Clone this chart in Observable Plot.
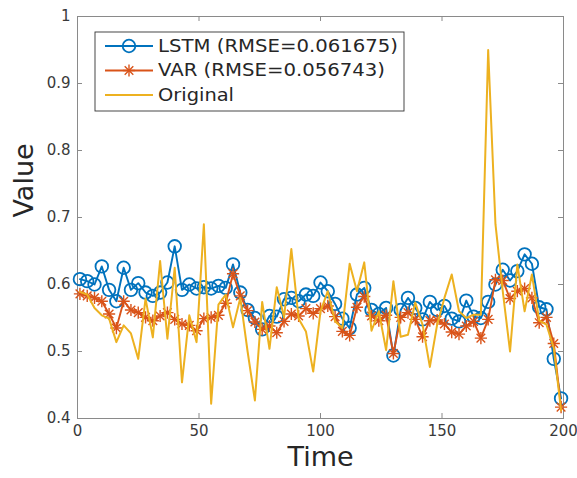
<!DOCTYPE html>
<html><head><meta charset="utf-8">
<script src="https://cdn.jsdelivr.net/npm/d3@7"></script>
<script src="https://cdn.jsdelivr.net/npm/@observablehq/plot@0.6"></script>
<style>
body{margin:0;background:#fff;}
#chart{width:577px;height:478px;}
</style></head><body><div id="chart"></div>
<script>
const time = [1,4,7,10,13,16,19,22,25,28,31,34,37,40,43,46,49,52,55,58,61,64,67,70,73,76,79,82,85,88,91,94,97,100,103,106,109,112,115,118,121,124,127,130,133,136,139,142,145,148,151,154,157,160,163,166,169,172,175,178,181,184,187,190,193,196,199];
const lstm = [0.608,0.605,0.600,0.627,0.592,0.575,0.625,0.592,0.602,0.588,
  0.583,0.588,0.603,0.657,0.592,0.600,0.594,0.596,0.594,0.598,
  0.595,0.630,0.588,0.562,0.550,0.533,0.553,0.552,0.578,0.580,
  0.575,0.585,0.583,0.603,0.590,0.571,0.549,0.535,0.585,0.595,
  0.562,0.556,0.565,0.494,0.562,0.580,0.565,0.548,0.574,0.562,
  0.568,0.549,0.545,0.576,0.552,0.550,0.574,0.600,0.622,0.606,
  0.620,0.645,0.631,0.566,0.563,0.489,0.430];
const varPred = [0.586,0.583,0.580,0.575,0.556,0.535,0.575,0.562,0.558,0.551,
  0.546,0.553,0.558,0.548,0.541,0.539,0.531,0.549,0.551,0.554,
  0.572,0.616,0.583,0.561,0.544,0.533,0.538,0.528,0.545,0.556,
  0.553,0.564,0.557,0.564,0.568,0.552,0.530,0.524,0.566,0.582,
  0.553,0.546,0.554,0.497,0.551,0.558,0.548,0.522,0.546,0.547,
  0.541,0.529,0.526,0.538,0.545,0.520,0.548,0.607,0.606,0.579,
  0.590,0.594,0.580,0.543,0.551,0.512,0.417];
const original = [0.589,0.585,0.565,0.554,0.549,0.514,0.539,0.527,0.489,0.579,
  0.521,0.635,0.519,0.625,0.454,0.554,0.514,0.690,0.422,0.570,
  0.585,0.536,0.580,0.500,0.427,0.574,0.504,0.596,0.551,0.653,
  0.549,0.530,0.470,0.560,0.590,0.545,0.535,0.631,0.590,0.633,
  0.531,0.560,0.502,0.605,0.522,0.525,0.573,0.540,0.477,0.540,
  0.580,0.615,0.560,0.550,0.555,0.555,0.950,0.690,0.590,0.500,
  0.630,0.560,0.615,0.546,0.540,0.505,0.412];
const xTicks = [0,50,100,150,200];
const yTicks = [0.4,0.5,0.6,0.7,0.8,0.9,1];
const yTickLabels = ["0.4","0.5","0.6","0.7","0.8","0.9","1"];
const seriesNames = ["LSTM (RMSE=0.061675)","VAR (RMSE=0.056743)","Original"];
const colors = ["#0072BD","#D95319","#EDB120"];
const xLabel = "Time", yLabel = "Value";

const W=577,H=478,mL=77,mR=14,mT=16,mB=60;
const pw=W-mL-mR, ph=H-mT-mB;
const lstmData = time.map((t,i)=>({t, v:lstm[i]}));
const varData = time.map((t,i)=>({t, v:varPred[i]}));
const origData = time.map((t,i)=>({t, v:original[i]}));
const axisColor = "#8a8a8a";

const chart = Plot.plot({
  width:W, height:H, marginLeft:mL, marginRight:mR, marginTop:mT, marginBottom:mB,
  style:{fontFamily:"DejaVu Sans", background:"white", color:"#3a3a3a"},
  x:{domain:[0,200], axis:null},
  y:{domain:[0.4,1], axis:null},
  marks:[
    Plot.frame({stroke:axisColor}),
    Plot.tickX(xTicks,{x:d=>d, insetTop:ph-5, stroke:axisColor}),
    Plot.tickX(xTicks,{x:d=>d, insetBottom:ph-5, stroke:axisColor}),
    Plot.tickY(yTicks,{y:d=>d, insetRight:pw-5, stroke:axisColor}),
    Plot.tickY(yTicks,{y:d=>d, insetLeft:pw-5, stroke:axisColor}),
    Plot.axisX(xTicks,{tickSize:0, tickPadding:7, fontSize:15, label:null, tickFormat:d=>String(d)}),
    Plot.axisY(yTicks,{tickSize:0, tickPadding:7, fontSize:15, label:null, tickFormat:d=>yTickLabels[yTicks.indexOf(d)]}),
    Plot.line(lstmData,{x:"t",y:"v",stroke:colors[0],strokeWidth:1.9}),
    Plot.dot(lstmData,{x:"t",y:"v",r:6.3,stroke:colors[0],strokeWidth:1.8,fill:"none"}),
    Plot.line(varData,{x:"t",y:"v",stroke:colors[1],strokeWidth:1.9}),
    Plot.dot(varData,{x:"t",y:"v",symbol:"plus",r:4,stroke:colors[1],strokeWidth:1.4}),
    Plot.dot(varData,{x:"t",y:"v",symbol:"times",r:4,stroke:colors[1],strokeWidth:1.4}),
    Plot.line(origData,{x:"t",y:"v",stroke:colors[2],strokeWidth:2}),
    Plot.text([xLabel],{frameAnchor:"bottom", dy:47, fontSize:27, fill:"#262626"}),
    Plot.text([yLabel],{frameAnchor:"left", dx:-53, rotate:-90, fontSize:27, fill:"#262626"})
  ]
});
document.getElementById("chart").appendChild(chart);

// legend
const svg = d3.select(chart);
const lg = svg.append("g").attr("font-family","DejaVu Sans").attr("text-anchor","start");
lg.append("rect").attr("x",95).attr("y",32).attr("width",309).attr("height",79)
  .attr("fill","white").attr("stroke","#333").attr("stroke-width",0.9);
const textLens = [240,227,76];
seriesNames.forEach((name,i)=>{
  const cy = 46 + i*24.5;
  lg.append("line").attr("x1",105).attr("x2",153).attr("y1",cy).attr("y2",cy)
    .attr("stroke",colors[i]).attr("stroke-width",i===2?2:1.9);
  if(i===0){
    lg.append("circle").attr("cx",129).attr("cy",cy).attr("r",6.3).attr("fill","none")
      .attr("stroke",colors[0]).attr("stroke-width",1.8);
  } else if(i===1){
    lg.append("path").attr("transform",`translate(129,${cy})`)
      .attr("d",d3.symbol(d3.symbolPlus,16*Math.PI)()).attr("fill","none").attr("stroke",colors[1]).attr("stroke-width",1.4);
    lg.append("path").attr("transform",`translate(129,${cy})`)
      .attr("d",d3.symbol(d3.symbolTimes,16*Math.PI)()).attr("fill","none").attr("stroke",colors[1]).attr("stroke-width",1.4);
  }
  lg.append("text").attr("x",158).attr("y",cy).attr("dy","0.35em")
    .attr("font-size",17).attr("fill","#262626").attr("text-anchor","start")
    .attr("textLength",textLens[i]).attr("lengthAdjust","spacingAndGlyphs")
    .text(name);
});
</script></body></html>
